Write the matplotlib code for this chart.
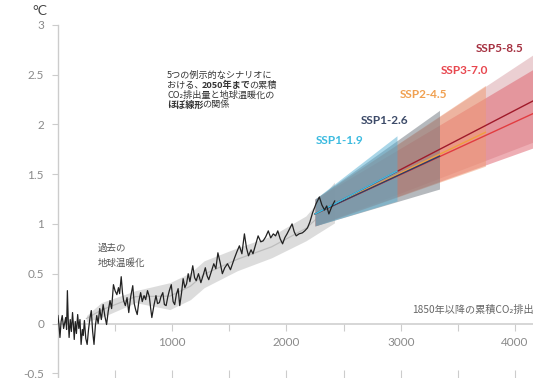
import matplotlib
matplotlib.use("Agg")
import matplotlib.pyplot as plt
import numpy as np

plt.rcParams['font.family'] = ['Lato', 'Noto Sans CJK JP', 'DejaVu Sans']

# ---- data ----
hist_x = [0, 10, 18, 28, 38, 50, 60, 68, 76, 83, 90, 98, 108, 118, 128, 136, 143, 152,
          162, 173, 183, 193, 203, 214, 222, 232, 244, 256, 268, 280, 292, 304, 316,
          328, 340, 352, 366, 380, 396, 410, 426, 440, 456, 470, 486, 500, 516, 530,
          540, 554, 565, 575, 590, 605, 620, 637, 655, 668, 680, 694, 708, 724, 738,
          754, 768, 784, 800, 812, 822, 840, 858, 872, 888, 902, 918, 932, 947, 962,
          975, 992, 1008, 1022, 1036, 1052, 1066, 1081, 1096, 1111, 1126, 1140, 1155,
          1180, 1196, 1210, 1230, 1251, 1270, 1290, 1305, 1320, 1342, 1364, 1382, 1400,
          1420, 1439, 1460, 1484, 1510, 1543, 1566, 1588, 1610, 1632, 1650, 1668, 1690,
          1707, 1730, 1752, 1775, 1796, 1818, 1841, 1862, 1885, 1905, 1924, 1945, 1966,
          1985, 2005, 2027, 2049, 2068, 2085, 2110, 2139, 2160, 2184, 2205, 2228, 2258,
          2288, 2310, 2333, 2352, 2371, 2395, 2422]
hist_y = [0.08, -0.02, -0.14, 0.02, 0.08, -0.05, 0.01, 0.06, -0.06, 0.33, 0.05, -0.14,
          0.04, -0.08, 0.11, -0.02, -0.16, 0.02, -0.10, 0.09, -0.05, 0.04, -0.21, -0.06,
          -0.12, 0.03, -0.15, -0.21, -0.06, 0.05, 0.13, -0.08, -0.21, -0.02, 0.08, 0.00,
          0.15, 0.04, 0.19, 0.08, -0.01, 0.12, 0.23, 0.15, 0.39, 0.33, 0.29, 0.36, 0.30,
          0.47, 0.31, 0.23, 0.18, 0.26, 0.11, 0.27, 0.38, 0.20, 0.14, 0.09, 0.22, 0.31,
          0.22, 0.28, 0.24, 0.33, 0.27, 0.15, 0.06, 0.18, 0.28, 0.20, 0.21, 0.27, 0.31,
          0.19, 0.18, 0.27, 0.33, 0.39, 0.22, 0.19, 0.29, 0.35, 0.18, 0.30, 0.45, 0.36,
          0.40, 0.50, 0.42, 0.58, 0.46, 0.43, 0.50, 0.41, 0.48, 0.56, 0.48, 0.44, 0.52,
          0.60, 0.55, 0.71, 0.61, 0.50, 0.56, 0.60, 0.54, 0.65, 0.72, 0.78, 0.70, 0.90,
          0.76, 0.68, 0.74, 0.70, 0.79, 0.88, 0.82, 0.83, 0.87, 0.93, 0.86, 0.90, 0.88,
          0.93, 0.85, 0.80, 0.86, 0.90, 0.95, 1.00, 0.92, 0.88, 0.90, 0.91, 0.93, 0.96,
          1.02, 1.11, 1.20, 1.27, 1.19, 1.14, 1.18, 1.10, 1.17, 1.23]

hist_band_x = [250, 380, 680, 980, 1160, 1280, 1570, 1870, 2170, 2420]
hist_band_low = [0.02, 0.06, 0.21, 0.14, 0.24, 0.36, 0.53, 0.66, 0.83, 1.01]
hist_band_high = [0.08, 0.21, 0.33, 0.41, 0.51, 0.63, 0.76, 0.88, 1.08, 1.42]

ssp_names = ['SSP1-1.9', 'SSP1-2.6', 'SSP2-4.5', 'SSP3-7.0', 'SSP5-8.5']
ssp_x_start = 2250
ssp_x_end = [2967, 3339, 3741, 4200, 4200]
ssp_mid_start = 1.10
ssp_mid_end = [1.53, 1.68, 1.92, 2.13, 2.26]
ssp_low_start = 0.98
ssp_low_end = [1.23, 1.35, 1.58, 1.78, 1.84]
ssp_high_start = 1.25
ssp_high_end = [1.885, 2.14, 2.39, 2.58, 2.73]

y_ticks = [-0.5, 0, 0.5, 1, 1.5, 2, 2.5, 3]
y_tick_labels = ['-0.5', '0', '0.5', '1', '1.5', '2', '2.5', '3']
x_ticks_major = [1000, 2000, 3000, 4000]
x_ticks_minor = [500, 1500, 2500, 3500]

# ---- styles ----
line_colors = ['#38bde4', '#2d3e66', '#f0a040', '#e23c40', '#a01a2a']
band_colors = ['#55aed2', '#6d747d', '#f09a70', '#de5e6a', '#d9a0a6']
band_alpha = [0.5, 0.5, 0.5, 0.5, 0.5]
label_colors = ['#3cbbe0', '#3c4a68', '#f0a050', '#e8474f', '#a53040']
label_px = [(340, 140), (385, 120), (424, 94), (464, 71), (500, 48)]

W, H = 533, 378
fig = plt.figure(figsize=(W / 100, H / 100), dpi=100)
ax = fig.add_axes([57.9 / W, 0, 480 / W, (378 - 24.7) / H])
ax.set_xlim(0, 4200)
ax.set_ylim(-0.547, 3.0)

# historical band
ax.fill_between(hist_band_x, hist_band_low, hist_band_high, color='#d4d4d4', alpha=0.8, lw=0, zorder=1)
ax.plot(hist_band_x, [(a + b) / 2 for a, b in zip(hist_band_low, hist_band_high)],
        color='#bdbdbd', lw=0.9, zorder=1.5)

# scenarios (widest first)
for i in [4, 3, 2, 1, 0]:
    xs = [ssp_x_start, ssp_x_end[i]]
    ax.fill_between(xs, [ssp_low_start, ssp_low_end[i]], [ssp_high_start, ssp_high_end[i]],
                    color=band_colors[i], alpha=band_alpha[i], lw=0, zorder=2 + (4 - i) * 0.1)
for i in [4, 3, 2, 1, 0]:
    ax.plot([ssp_x_start, ssp_x_end[i]], [ssp_mid_start, ssp_mid_end[i]],
            color=line_colors[i], lw=1.0, zorder=3)

# historical line
ax.plot(hist_x, hist_y, color='#222222', lw=0.9, zorder=4)

# axes styling
for s in ['top', 'right']:
    ax.spines[s].set_visible(False)
ax.spines['left'].set_color('#cccccc')
ax.spines['left'].set_linewidth(1.0)
ax.spines['bottom'].set_position(('data', 0))
ax.spines['bottom'].set_color('#d0d0d0')
ax.spines['bottom'].set_linewidth(1.2)
ax.set_yticks(y_ticks)
ax.set_yticklabels(y_tick_labels)
ax.tick_params(axis='y', colors='#cccccc', labelcolor='#8a8a8a', labelsize=8.5, length=4, width=0.8, pad=6)
ax.set_xticks(x_ticks_major)
ax.set_xticks(x_ticks_minor, minor=True)
ax.set_xticklabels([str(v) for v in x_ticks_major])
ax.tick_params(axis='x', which='both', colors='#cccccc', labelcolor='#8a8a8a', labelsize=8.5,
               length=5, width=0.8, pad=5)

sec = ax.secondary_xaxis(0)
sec.set_xticks(x_ticks_major + x_ticks_minor)
sec.set_xticklabels([])
sec.tick_params(axis='x', direction='in', colors='#cccccc', length=6, width=0.8)
sec.spines['bottom'].set_visible(False)

def fx(px):
    return px / W

def fy(py):
    return 1 - py / H

fig.text(fx(40), fy(11), '°C', ha='center', va='center', fontsize=10, color='#444444')

for name, c, (px, py) in zip(ssp_names, label_colors, label_px):
    fig.text(fx(px), fy(py), name, ha='center', va='center', fontsize=8.5,
             color=c, fontweight='bold')

jp = ['Noto Sans CJK JP', 'DejaVu Sans']
fig.text(fx(98), fy(248), '過去の', ha='left', va='center', fontsize=6.8, color='#555555', family=jp)
fig.text(fx(98), fy(263), '地球温暖化', ha='left', va='center', fontsize=6.8, color='#555555', family=jp)

fig.text(fx(412), fy(310), '1850年以降の累積CO₂排出量（GtCO₂）', ha='left', va='center',
         fontsize=7.3, color='#666666', family=jp)

# rich annotation block
lines = [
    [('5つの例示的なシナリオに', 'normal')],
    [('おける、', 'normal'), ('2050年まで', 'bold'), ('の累積', 'normal')],
    [('CO₂排出量と地球温暖化の', 'normal')],
    [('ほぼ線形', 'bold'), ('の関係', 'normal')],
]
line_py = [75, 85, 95, 105]
for parts, py in zip(lines, line_py):
    prev = fig.text(fx(167), fy(py), parts[0][0], ha='left', va='center', fontsize=6.6,
                    color='#333333', fontweight=parts[0][1], family=jp)
    for s, w in parts[1:]:
        prev = ax.annotate(s, xy=(1, 0.5), xycoords=prev, xytext=(-1, 0), textcoords='offset points',
                           ha='left', va='center', fontsize=6.6, color='#333333', fontweight=w,
                           family=jp, annotation_clip=False)

fig.savefig('out.png', dpi=100)
